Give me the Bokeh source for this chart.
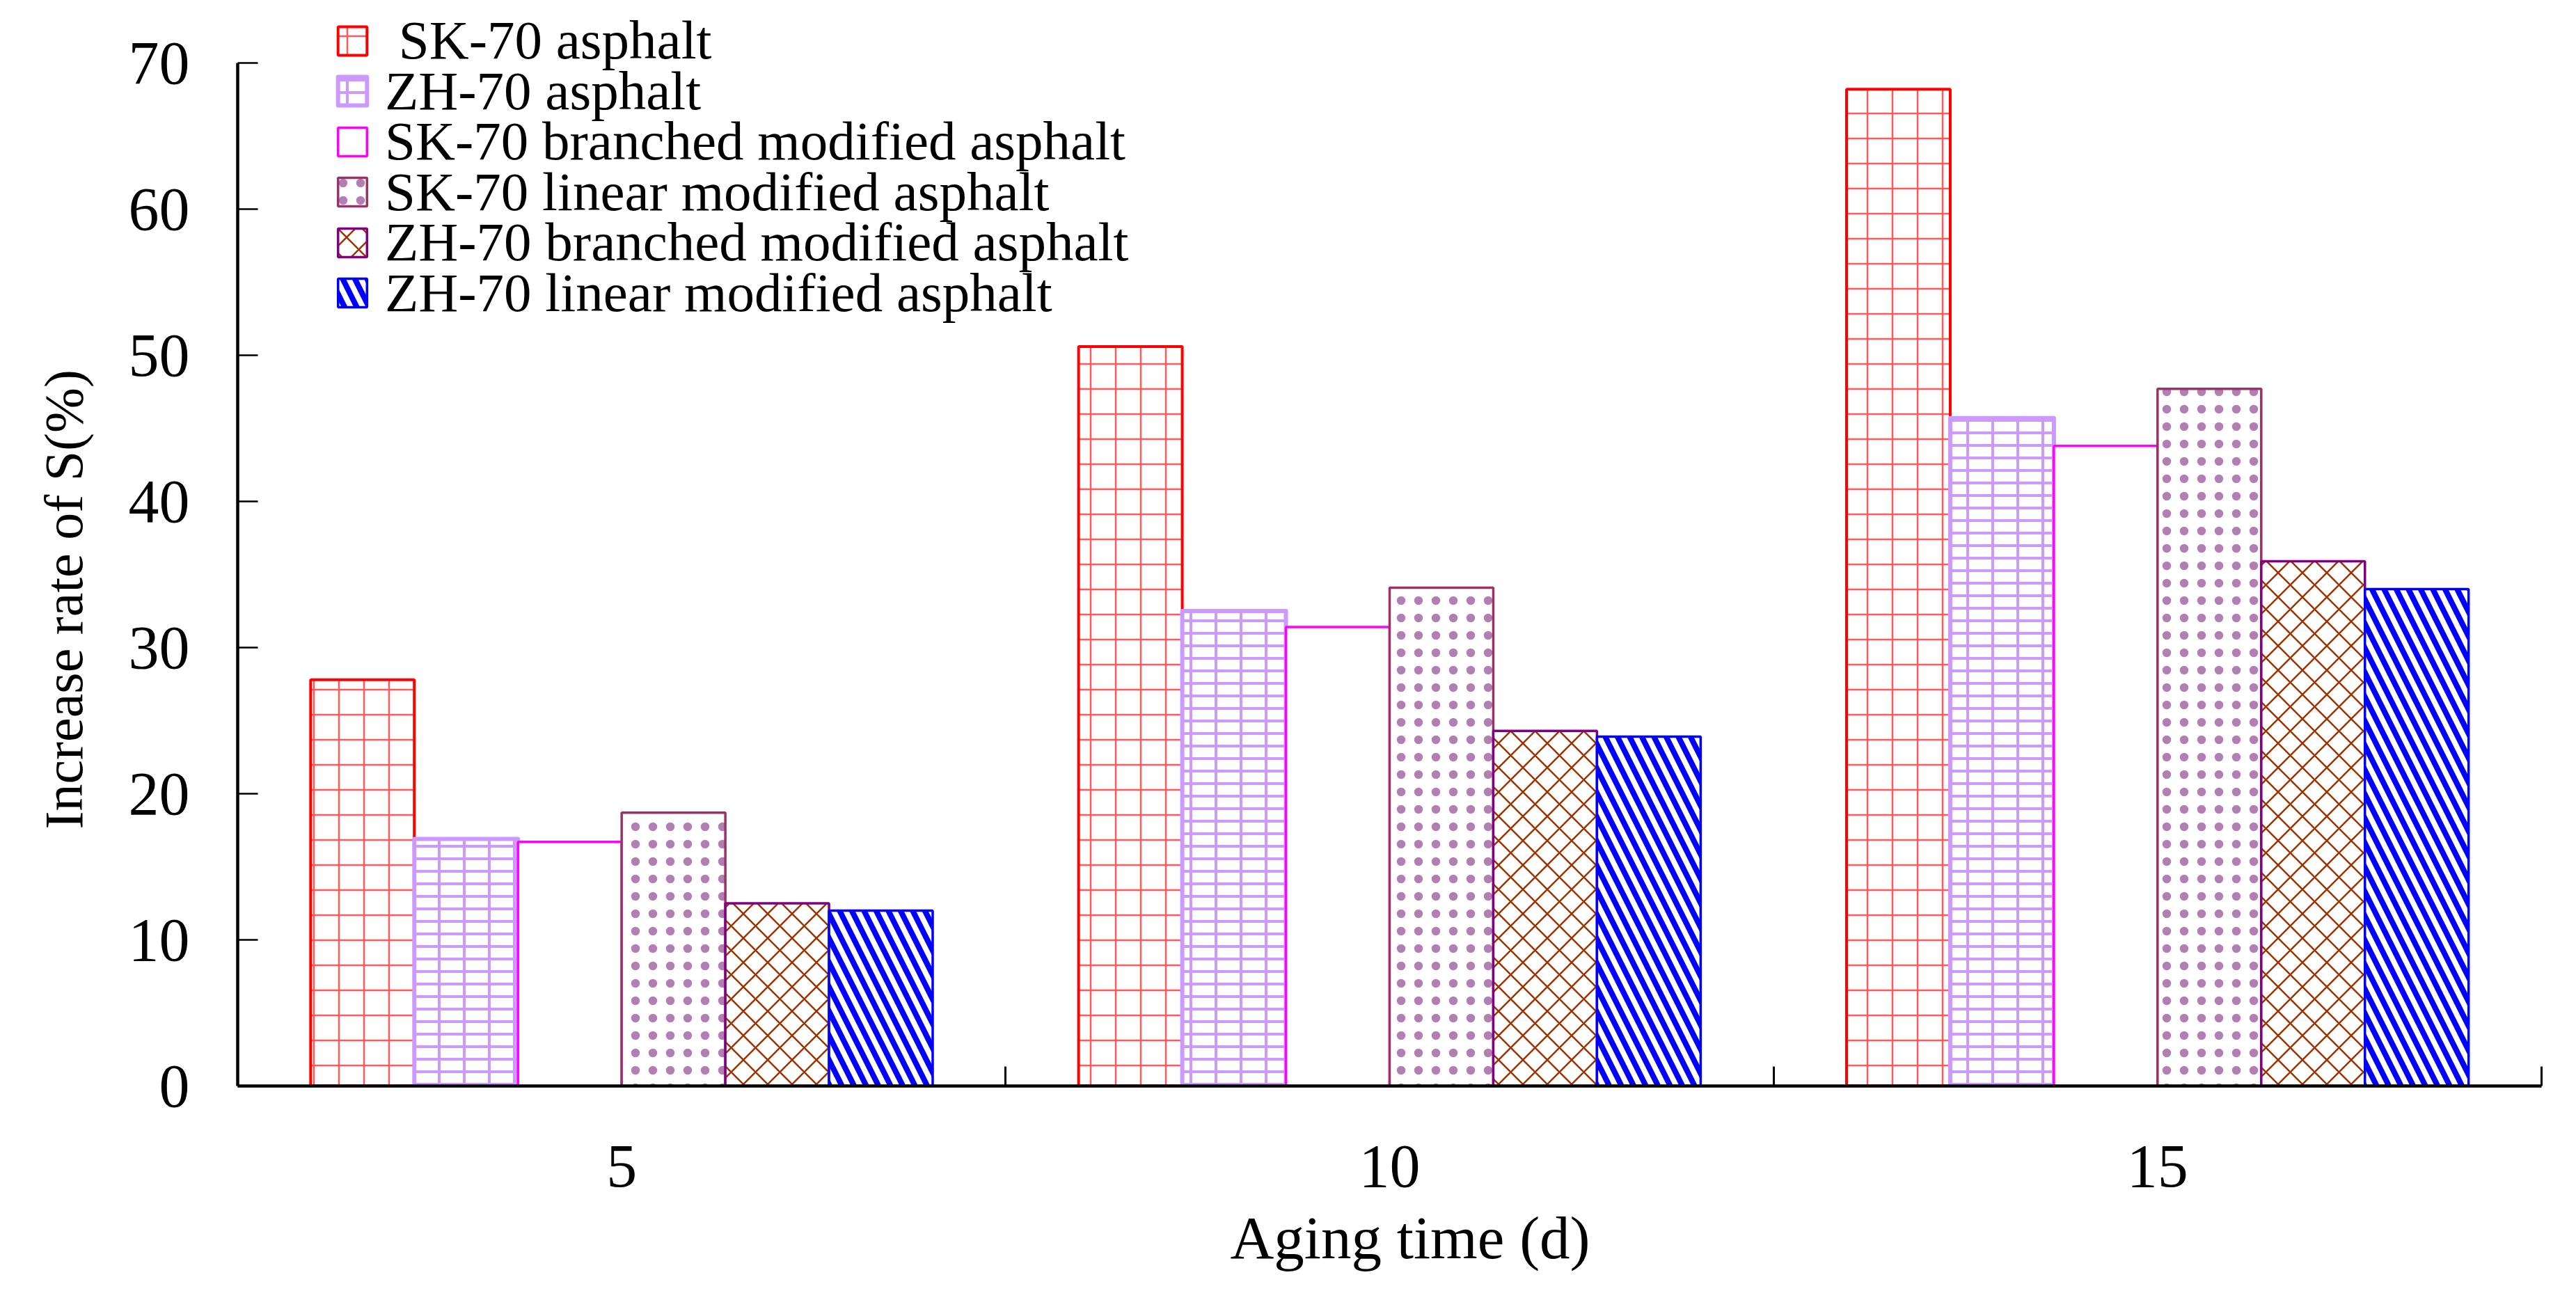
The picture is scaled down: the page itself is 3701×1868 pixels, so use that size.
from bokeh.plotting import figure
from bokeh.models import (FactorRange, Range1d, LinearAxis, FixedTicker, ColumnDataSource,
                          Legend, LegendItem, Title)
from bokeh.transform import dodge
from bokeh.embed import file_html
from bokeh.resources import INLINE

# ---- data ----
ages = ["5", "10", "15"]
sk70 = [27.8, 50.6, 68.2]
zh70 = [16.9, 32.5, 45.7]
sk70_branched = [16.7, 31.4, 43.8]
sk70_linear = [18.7, 34.1, 47.7]
zh70_branched = [12.5, 24.3, 35.9]
zh70_linear = [12.0, 23.9, 34.0]
y_ticks = [0, 10, 20, 30, 40, 50, 60, 70]
y_axis_max = 70
series_labels = [" SK-70 asphalt", "ZH-70 asphalt", "SK-70 branched modified asphalt",
                 "SK-70 linear modified asphalt", "ZH-70 branched modified asphalt",
                 "ZH-70 linear modified asphalt"]
x_title = "Aging time (d)"
y_title = "Increase rate of S(%)"

FONT = "Liberation Serif"

src = ColumnDataSource(dict(ages=ages, sk70=sk70, zh70=zh70, skb=sk70_branched,
                            skl=sk70_linear, zhb=zh70_branched, zhl=zh70_linear))

W, H = 3685, 1852
frame_bottom = 1560          # canvas px
px_per_unit = 1470 / 70      # vertical scale of the reference
p = figure(width=W, height=H, x_range=FactorRange(factors=ages, range_padding=0),
           y_range=Range1d(0, frame_bottom / px_per_unit), output_backend="svg",
           toolbar_location=None, x_axis_type=None, min_border_left=341,
           min_border_right=34, min_border_top=0, min_border_bottom=H - frame_bottom)
p.outline_line_color = None
p.grid.visible = False
p.background_fill_color = "white"

# x axis: labels at group centres, ticks at group boundaries
xaxis = LinearAxis(
    ticker=FixedTicker(ticks=[i + 0.5 for i in range(len(ages))],
                       minor_ticks=[i + 1 for i in range(len(ages))]),
    major_label_overrides={i + 0.5: a for i, a in enumerate(ages)})
xaxis.major_tick_in = 0
xaxis.major_tick_out = 0
xaxis.minor_tick_in = 28
xaxis.minor_tick_out = 0
xaxis.minor_tick_line_width = 3
xaxis.minor_tick_line_color = "black"
xaxis.axis_line_width = 4.5
xaxis.axis_line_color = "black"
xaxis.major_label_standoff = 86
xaxis.major_label_text_font = FONT
xaxis.major_label_text_font_size = "88px"
xaxis.major_label_text_color = "black"
p.add_layout(xaxis, "below")

yaxis = p.yaxis[0]
yaxis.ticker = FixedTicker(ticks=y_ticks)
yaxis.bounds = (0, y_axis_max)
yaxis.major_tick_in = 29
yaxis.major_tick_out = 0
yaxis.major_tick_line_width = 2.5
yaxis.major_tick_line_color = "black"
yaxis.minor_tick_line_color = None
yaxis.axis_line_width = 4.5
yaxis.axis_line_color = "black"
yaxis.major_label_standoff = 69
yaxis.major_label_text_font = FONT
yaxis.major_label_text_font_size = "88px"
yaxis.major_label_text_color = "black"

# axis titles as side-panel titles (offset along the axis)
p.add_layout(Title(text=y_title, align="left", offset=369, standoff=91,
                   vertical_align="middle", text_font=FONT, text_font_size="78px",
                   text_font_style="normal", text_color="black"), "left")
p.add_layout(Title(text=x_title, align="left", offset=1426, standoff=42,
                   vertical_align="middle", text_font=FONT, text_font_size="87px",
                   text_font_style="normal", text_color="black"), "below")

bw = 0.135
offs = [(-2.5 + i) * bw for i in range(6)]

r1 = p.vbar(x=dodge("ages", offs[0], range=p.x_range), top="sk70", width=bw, source=src,
            fill_color="white", line_color="#FF0000", line_width=4,
            hatch_pattern="cross", hatch_color="#FF0000", hatch_scale=36,
            hatch_weight=2.5, hatch_alpha=0.65)
r2 = p.vbar(x=dodge("ages", offs[1], range=p.x_range), top="zh70", width=bw, source=src,
            fill_color="white", line_color="#CC99FF", line_width=6, line_join="round",
            hatch_pattern="horizontal_line", hatch_color="#CC99FF", hatch_scale=18,
            hatch_weight=4)
r2b = p.vbar(x=dodge("ages", offs[1], range=p.x_range), top="zh70", width=bw, source=src,
             fill_alpha=0, line_color=None,
             hatch_pattern="vertical_line", hatch_color="#CC99FF", hatch_scale=36,
             hatch_weight=4)
r3 = p.vbar(x=dodge("ages", offs[2], range=p.x_range), top="skb", width=bw, source=src,
            fill_color="white", line_color="#FF00FF", line_width=3.5)
r4 = p.vbar(x=dodge("ages", offs[3], range=p.x_range), top="skl", width=bw, source=src,
            fill_color="white", line_color="#993366", line_width=3.5,
            hatch_pattern="dot", hatch_color="#660066", hatch_scale=25, hatch_alpha=0.5)
r5 = p.vbar(x=dodge("ages", offs[4], range=p.x_range), top="zhb", width=bw, source=src,
            fill_color="white", line_color="#800080", line_width=3.5,
            hatch_pattern="diagonal_cross", hatch_color="#993300", hatch_scale=35,
            hatch_weight=2.5)
r6 = p.vbar(x=dodge("ages", offs[5], range=p.x_range), top="zhl", width=bw, source=src,
            fill_color="white", line_color="#0000FF", line_width=3.5,
            hatch_pattern="left_diagonal_line", hatch_color="#0000FF", hatch_scale=35,
            hatch_weight=8)

# one legend per row so the row pitch can match the reference
renderer_sets = [[r1], [r2, r2b], [r3], [r4], [r5], [r6]]
for i, (lab, rs) in enumerate(zip(series_labels, renderer_sets)):
    leg = Legend(items=[LegendItem(label=lab, renderers=rs)],
                 location=(139, 1457 - 72.5 * i),
                 padding=0, margin=0, spacing=0,
                 glyph_width=52, glyph_height=51, label_standoff=21, label_height=51,
                 label_text_font=FONT, label_text_font_size="79px",
                 label_text_color="black",
                 border_line_alpha=0, background_fill_alpha=0)
    p.add_layout(leg)

open("out.html", "w").write(file_html(p, INLINE))
